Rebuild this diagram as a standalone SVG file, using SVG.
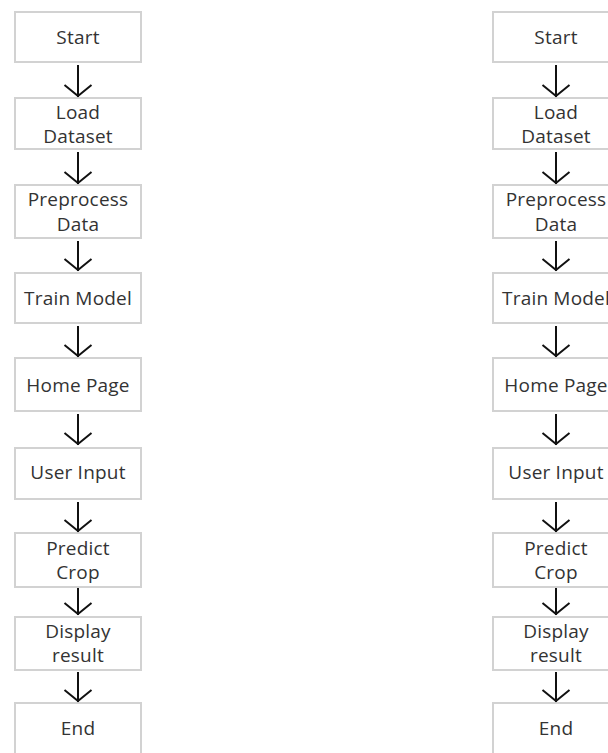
<svg xmlns="http://www.w3.org/2000/svg" width="608" height="753" viewBox="0 0 608 753">
<style>
.box{fill:#ffffff;stroke:#d2d2d2;stroke-width:2}
.t{font-family:"Open Sans","Liberation Sans",sans-serif;font-size:19px;font-weight:500;fill:#333333;text-anchor:middle;letter-spacing:0.2px}
.c{stroke:#111111;stroke-width:2;fill:none}
</style>
<defs>
<marker id="arr" markerUnits="userSpaceOnUse" viewBox="-2 -2 16 31" markerWidth="16" markerHeight="31" refX="12" refY="13.5" orient="auto">
<path d="M0,0 L11,13.5 L0,27" fill="none" stroke="#111111" stroke-width="2"/>
</marker>
</defs>
<rect width="608" height="753" fill="#ffffff"/>
<g id="left">
<g id="L-start"><rect class="box" x="15" y="12" width="126" height="50"/><text class="t" x="78" y="44">Start</text></g>
<g id="L-load"><rect class="box" x="15" y="98" width="126" height="51"/><text class="t" x="78" y="119">Load</text><text class="t" x="78" y="143">Dataset</text></g>
<g id="L-pre"><rect class="box" x="15" y="185" width="126" height="53"/><text class="t" x="78" y="206">Preprocess</text><text class="t" x="78" y="231">Data</text></g>
<g id="L-train"><rect class="box" x="15" y="273" width="126" height="50"/><text class="t" x="78" y="305">Train Model</text></g>
<g id="L-home"><rect class="box" x="15" y="358" width="126" height="53"/><text class="t" x="78" y="392">Home Page</text></g>
<g id="L-user"><rect class="box" x="15" y="448" width="126" height="51"/><text class="t" x="78" y="479">User Input</text></g>
<g id="L-predict"><rect class="box" x="15" y="533" width="126" height="54"/><text class="t" x="78" y="555">Predict</text><text class="t" x="78" y="579">Crop</text></g>
<g id="L-display"><rect class="box" x="15" y="617" width="126" height="53"/><text class="t" x="78" y="638">Display</text><text class="t" x="78" y="662">result</text></g>
<g id="L-end"><rect class="box" x="15" y="703" width="126" height="56"/><text class="t" x="78" y="735">End</text></g>
</g>
<g id="right">
<g id="R-start"><rect class="box" x="493" y="12" width="126" height="50"/><text class="t" x="556" y="44">Start</text></g>
<g id="R-load"><rect class="box" x="493" y="98" width="126" height="51"/><text class="t" x="556" y="119">Load</text><text class="t" x="556" y="143">Dataset</text></g>
<g id="R-pre"><rect class="box" x="493" y="185" width="126" height="53"/><text class="t" x="556" y="206">Preprocess</text><text class="t" x="556" y="231">Data</text></g>
<g id="R-train"><rect class="box" x="493" y="273" width="126" height="50"/><text class="t" x="556" y="305">Train Model</text></g>
<g id="R-home"><rect class="box" x="493" y="358" width="126" height="53"/><text class="t" x="556" y="392">Home Page</text></g>
<g id="R-user"><rect class="box" x="493" y="448" width="126" height="51"/><text class="t" x="556" y="479">User Input</text></g>
<g id="R-predict"><rect class="box" x="493" y="533" width="126" height="54"/><text class="t" x="556" y="555">Predict</text><text class="t" x="556" y="579">Crop</text></g>
<g id="R-display"><rect class="box" x="493" y="617" width="126" height="53"/><text class="t" x="556" y="638">Display</text><text class="t" x="556" y="662">result</text></g>
<g id="R-end"><rect class="box" x="493" y="703" width="126" height="56"/><text class="t" x="556" y="735">End</text></g>
</g>
<g id="connectors" class="c">
<line x1="78" y1="65" x2="78" y2="97" marker-end="url(#arr)"/>
<line x1="78" y1="152" x2="78" y2="184" marker-end="url(#arr)"/>
<line x1="78" y1="241" x2="78" y2="271" marker-end="url(#arr)"/>
<line x1="78" y1="326" x2="78" y2="357" marker-end="url(#arr)"/>
<line x1="78" y1="414" x2="78" y2="445" marker-end="url(#arr)"/>
<line x1="78" y1="502" x2="78" y2="532" marker-end="url(#arr)"/>
<line x1="78" y1="588" x2="78" y2="615" marker-end="url(#arr)"/>
<line x1="78" y1="672" x2="78" y2="702" marker-end="url(#arr)"/>
<line x1="556" y1="65" x2="556" y2="97" marker-end="url(#arr)"/>
<line x1="556" y1="152" x2="556" y2="184" marker-end="url(#arr)"/>
<line x1="556" y1="241" x2="556" y2="271" marker-end="url(#arr)"/>
<line x1="556" y1="326" x2="556" y2="357" marker-end="url(#arr)"/>
<line x1="556" y1="414" x2="556" y2="445" marker-end="url(#arr)"/>
<line x1="556" y1="502" x2="556" y2="532" marker-end="url(#arr)"/>
<line x1="556" y1="588" x2="556" y2="615" marker-end="url(#arr)"/>
<line x1="556" y1="672" x2="556" y2="702" marker-end="url(#arr)"/>
</g>
</svg>
